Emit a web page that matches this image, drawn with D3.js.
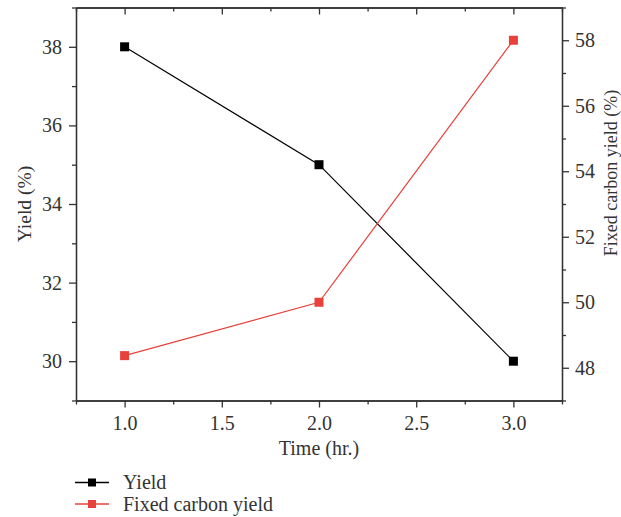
<!DOCTYPE html>
<html>
<head>
<meta charset="utf-8">
<script src="https://d3js.org/d3.v7.min.js"></script>
<style>
  body { margin: 0; background: #fff; }
  .axis path, .axis line { stroke: #333; stroke-width: 1.3; }
</style>
</head>
<body>
<svg id="chart" width="621" height="517"></svg>
<script>
// data
var times = [1.0, 2.0, 3.0];
var yieldVals = [38, 35, 30];
var fixedCarbon = [48.37, 50.0, 58.0];

var xMajor = [1.0, 1.5, 2.0, 2.5, 3.0];
var xMinor = [0.75, 1.25, 1.75, 2.25, 2.75, 3.25];
var yLeftMajor = [30, 32, 34, 36, 38];
var yLeftMinor = [29, 31, 33, 35, 37, 39];
var yRightMajor = [48, 50, 52, 54, 56, 58];
var yRightMinor = [47, 49, 51, 53, 55, 57, 59];

var seriesNames = ["Yield", "Fixed carbon yield"];
var colors = ["#000000", "#e8403a"];

var serif = "Liberation Serif";

// plot box
var boxL = 76, boxR = 562, boxT = 7.5, boxB = 400.5;

var svg = d3.select("#chart");

var x = d3.scaleLinear().domain([0.75, 3.25]).range([boxL, boxR]);
var yL = d3.scaleLinear().domain([29, 39]).range([boxB, boxT]);
var yR = d3.scaleLinear().domain([47, 59]).range([boxB, boxT]);

function styleAxis(g) {
  g.attr("class", "axis").attr("font-family", serif).attr("font-size", 20);
  g.selectAll("text").attr("fill", "#333").attr("font-family", serif).attr("font-size", 20);
}

// bottom axis
svg.append("g")
  .attr("transform", "translate(0," + boxB + ")")
  .call(d3.axisBottom(x).tickValues(xMajor).tickSize(7).tickSizeOuter(0).tickPadding(8)
    .tickFormat(d3.format(".1f")))
  .call(styleAxis);
svg.append("g")
  .attr("transform", "translate(0," + boxB + ")")
  .call(d3.axisBottom(x).tickValues(xMinor).tickSize(4).tickSizeOuter(0).tickFormat(""))
  .call(styleAxis);

// top axis, ticks inward
svg.append("g")
  .attr("transform", "translate(0," + boxT + ")")
  .call(d3.axisTop(x).tickValues(xMajor).tickSize(-7).tickSizeOuter(0).tickFormat(""))
  .call(styleAxis);
svg.append("g")
  .attr("transform", "translate(0," + boxT + ")")
  .call(d3.axisTop(x).tickValues(xMinor).tickSize(-4).tickSizeOuter(0).tickFormat(""))
  .call(styleAxis);

// left axis
svg.append("g")
  .attr("transform", "translate(" + boxL + ",0)")
  .call(d3.axisLeft(yL).tickValues(yLeftMajor).tickSize(7).tickSizeOuter(0).tickPadding(7))
  .call(styleAxis);
svg.append("g")
  .attr("transform", "translate(" + boxL + ",0)")
  .call(d3.axisLeft(yL).tickValues(yLeftMinor).tickSize(4).tickSizeOuter(0).tickFormat(""))
  .call(styleAxis);

// right axis
svg.append("g")
  .attr("transform", "translate(" + boxR + ",0)")
  .call(d3.axisRight(yR).tickValues(yRightMajor).tickSize(7).tickSizeOuter(0).tickPadding(6))
  .call(styleAxis);
svg.append("g")
  .attr("transform", "translate(" + boxR + ",0)")
  .call(d3.axisRight(yR).tickValues(yRightMinor).tickSize(4).tickSizeOuter(0).tickFormat(""))
  .call(styleAxis);

// axis titles
svg.append("text")
  .attr("x", (boxL + boxR) / 2).attr("y", 455)
  .attr("text-anchor", "middle")
  .attr("font-family", serif).attr("font-size", 20).attr("fill", "#333")
  .text("Time (hr.)");

svg.append("text")
  .attr("transform", "translate(31," + ((boxT + boxB) / 2) + ") rotate(-90)")
  .attr("text-anchor", "middle")
  .attr("font-family", serif).attr("font-size", 19.5).attr("fill", "#333")
  .text("Yield (%)");

svg.append("text")
  .attr("transform", "translate(617," + 173 + ") rotate(-90)")
  .attr("text-anchor", "middle")
  .attr("font-family", serif).attr("font-size", 18).attr("fill", "#333")
  .text("Fixed carbon yield (%)");

// lines and markers
var line1 = d3.line().x(function(d, i) { return x(times[i]); }).y(function(d) { return yL(d); });
var line2 = d3.line().x(function(d, i) { return x(times[i]); }).y(function(d) { return yR(d); });

svg.append("path").datum(yieldVals)
  .attr("d", line1).attr("fill", "none").attr("stroke", colors[0]).attr("stroke-width", 1.2);
svg.append("path").datum(fixedCarbon)
  .attr("d", line2).attr("fill", "none").attr("stroke", colors[1]).attr("stroke-width", 1.2);

var sz = 9;
svg.selectAll(".m1").data(yieldVals).enter().append("rect")
  .attr("x", function(d, i) { return x(times[i]) - sz / 2; })
  .attr("y", function(d) { return yL(d) - sz / 2; })
  .attr("width", sz).attr("height", sz).attr("fill", colors[0]);
svg.selectAll(".m2").data(fixedCarbon).enter().append("rect")
  .attr("x", function(d, i) { return x(times[i]) - sz / 2; })
  .attr("y", function(d) { return yR(d) - sz / 2; })
  .attr("width", sz).attr("height", sz).attr("fill", colors[1]);

// legend
var legend = svg.append("g");
seriesNames.forEach(function(name, i) {
  var ly = 482.5 + i * 21.5;
  legend.append("line").attr("x1", 75).attr("x2", 109).attr("y1", ly).attr("y2", ly)
    .attr("stroke", colors[i]).attr("stroke-width", 1.3);
  legend.append("rect").attr("x", 92 - 4).attr("y", ly - 4).attr("width", 8).attr("height", 8)
    .attr("fill", colors[i]);
  legend.append("text").attr("x", 123).attr("y", ly + 6.5)
    .attr("font-family", serif).attr("font-size", 20).attr("fill", "#333")
    .text(name);
});
</script>
</body>
</html>
